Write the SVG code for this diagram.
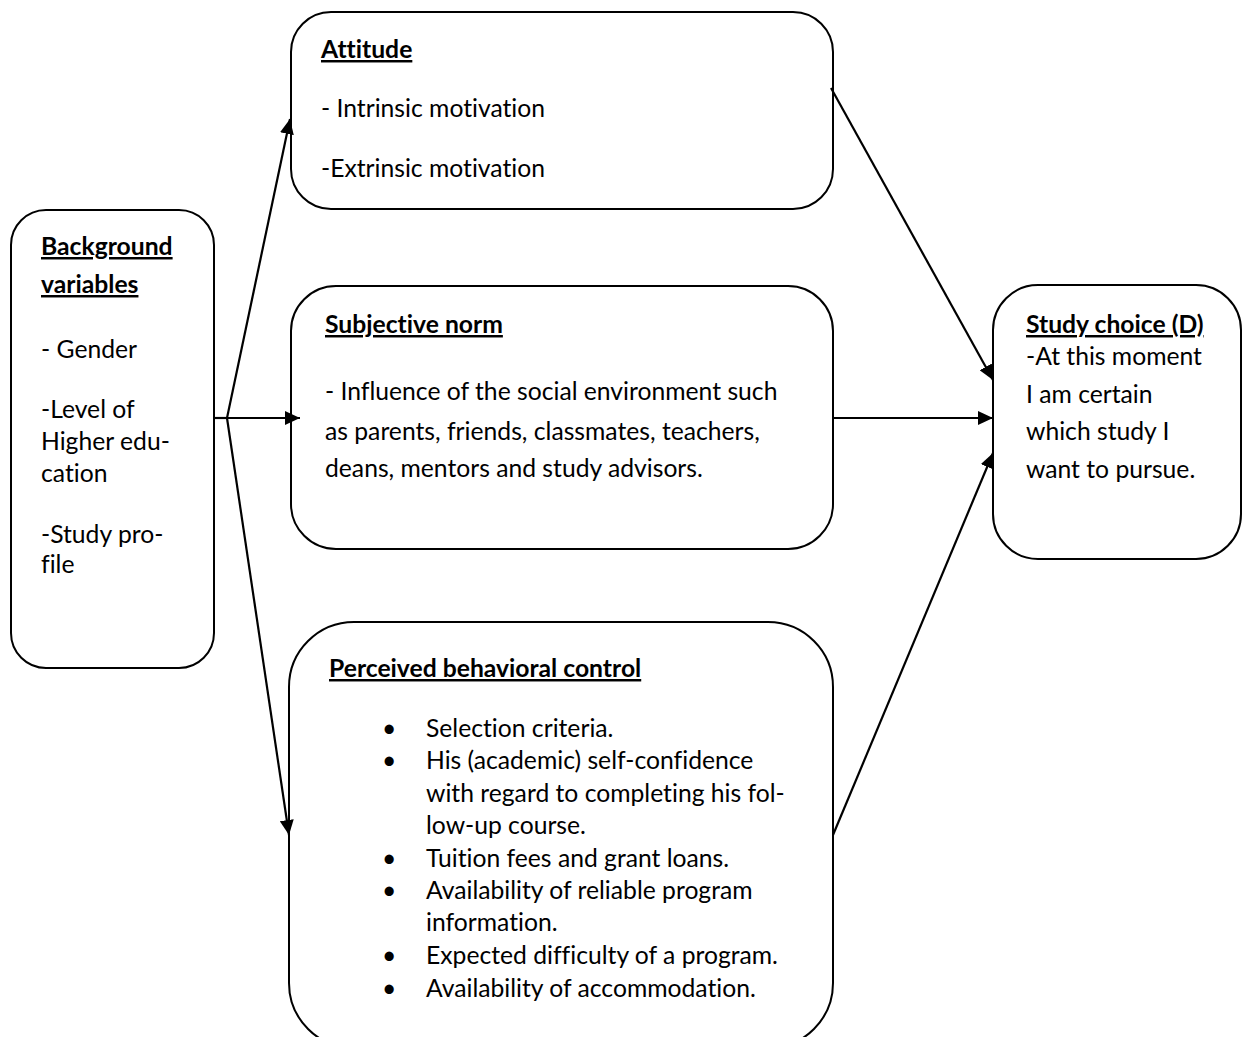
<svg xmlns="http://www.w3.org/2000/svg" width="1242" height="1037" viewBox="0 0 1242 1037">
<style>
.box{fill:#fff;stroke:#000;stroke-width:2}
text{font-family:Lato,"Liberation Sans",sans-serif;font-size:24.7px;fill:#000;font-variant-ligatures:none}
.t{font-weight:bold;text-decoration:underline}
.c{stroke:#000;stroke-width:2.2;fill:none}
</style>
<defs>
<marker id="ah" markerUnits="userSpaceOnUse" markerWidth="16" markerHeight="14" refX="15" refY="7" orient="auto">
<path d="M0,0 L15,7 L0,14 z" fill="#000"/>
</marker>
</defs>
<g id="background">
<rect class="box" x="11" y="210" width="203" height="458" rx="35"/>
<text class="t" x="41" y="255">Background</text>
<text class="t" x="41" y="293">variables</text>
<text x="41" y="358">- Gender</text>
<text x="41" y="418">-Level of</text>
<text x="41" y="450">Higher edu-</text>
<text x="41" y="482">cation</text>
<text x="41" y="543">-Study pro-</text>
<text x="41" y="573">file</text>
</g>
<g id="attitude">
<rect class="box" x="291" y="12" width="542" height="197" rx="40"/>
<text class="t" x="321" y="58">Attitude</text>
<text x="321" y="117">- Intrinsic motivation</text>
<text x="321" y="177">-Extrinsic motivation</text>
</g>
<g id="subjective">
<rect class="box" x="291" y="286" width="542" height="263" rx="45"/>
<text class="t" x="325" y="333">Subjective norm</text>
<text x="325" y="400">- Influence of the social environment such</text>
<text x="325" y="440">as parents, friends, classmates, teachers,</text>
<text x="325" y="477">deans, mentors and study advisors.</text>
</g>
<g id="perceived">
<rect class="box" x="289" y="622" width="544" height="426" rx="65"/>
<text class="t" x="329" y="677">Perceived behavioral control</text>
<g>
<text x="382" y="737">•</text><text x="426" y="737">Selection criteria.</text>
<text x="382" y="769">•</text><text x="426" y="769">His (academic) self-confidence</text>
<text x="426" y="802">with regard to completing his fol-</text>
<text x="426" y="834">low-up course.</text>
<text x="382" y="867">•</text><text x="426" y="867">Tuition fees and grant loans.</text>
<text x="382" y="899">•</text><text x="426" y="899">Availability of reliable program</text>
<text x="426" y="931">information.</text>
<text x="382" y="964">•</text><text x="426" y="964">Expected difficulty of a program.</text>
<text x="382" y="997">•</text><text x="426" y="997">Availability of accommodation.</text>
</g>
</g>
<g id="studychoice">
<rect class="box" x="993" y="285" width="248" height="274" rx="45"/>
<text class="t" x="1026" y="333">Study choice (D)</text>
<text x="1026" y="365">-At this moment</text>
<text x="1026" y="403">I am certain</text>
<text x="1026" y="440">which study I</text>
<text x="1026" y="478">want to pursue.</text>
</g>
<g id="connectors">
<line class="c" x1="214" y1="418" x2="227" y2="418"/>
<line class="c" x1="227" y1="418" x2="290" y2="119" marker-end="url(#ah)"/>
<line class="c" x1="227" y1="418" x2="300" y2="418" marker-end="url(#ah)"/>
<line class="c" x1="227" y1="418" x2="289" y2="835" marker-end="url(#ah)"/>
<line class="c" x1="831" y1="88" x2="993" y2="380" marker-end="url(#ah)"/>
<line class="c" x1="833" y1="418" x2="993" y2="418" marker-end="url(#ah)"/>
<line class="c" x1="833" y1="835" x2="993" y2="453" marker-end="url(#ah)"/>
</g>
</svg>
